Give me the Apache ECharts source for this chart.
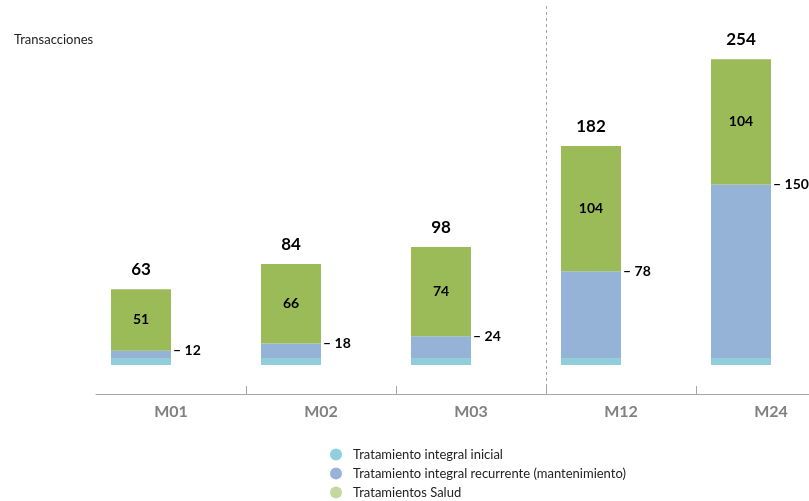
<!DOCTYPE html>
<html>
<head>
<meta charset="utf-8">
<script src="https://cdn.jsdelivr.net/npm/echarts@6/dist/echarts.min.js"></script>
<style>html,body{margin:0;padding:0;background:#fff;overflow:hidden;width:809px;height:501px}#c{width:846px;height:501px}</style>
</head>
<body>
<div id="c"></div>
<script>
const categories = ['M01', 'M02', 'M03', 'M12', 'M24'];
const seriesNames = ['Tratamiento integral inicial', 'Tratamiento integral recurrente (mantenimiento)', 'Tratamientos Salud'];
const inicial = [6, 6, 6, 6, 6];
const recurrente = [6, 12, 18, 72, 144];
const salud = [51, 66, 74, 104, 104];
const yMin = -24, yMax = 270;

const totals = categories.map((_, i) => inicial[i] + recurrente[i] + salud[i]);
const baseCum = categories.map((_, i) => inicial[i] + recurrente[i]);

const FONT = 'Lato, "Open Sans", sans-serif';
const chart = echarts.init(document.getElementById('c'), null, {renderer: 'canvas'});
const option = {
  animation: false,
  textStyle: {fontFamily: FONT},
  title: {text: 'Transacciones', left: 9, top: 28, textStyle: {fontSize: 13, fontWeight: 'normal', color: '#222', fontFamily: FONT}},
  grid: {left: 96, right: 0, top: 40, bottom: 107},
  legend: {
    orient: 'vertical', left: 330, top: 447, padding: 0, itemGap: 4, itemWidth: 12, itemHeight: 12, icon: 'circle',
    textStyle: {fontSize: 13, lineHeight: 15, color: '#222', fontFamily: FONT, padding: [0, 0, 0, 6]},
    data: [
      {name: seriesNames[0], itemStyle: {color: '#8fcfe0'}},
      {name: seriesNames[1], itemStyle: {color: '#98b3d8'}},
      {name: seriesNames[2], itemStyle: {color: '#c2d9a0'}}
    ]
  },
  xAxis: {
    type: 'category', data: categories,
    axisLine: {show: true, onZero: false, lineStyle: {color: '#a6a6a6', width: 1}},
    axisTick: {show: true, inside: true, length: 8, lineStyle: {color: '#a6a6a6'}, interval: (i) => i !== 0},
    axisLabel: {fontSize: 16, fontWeight: 'bold', color: '#808080', margin: 10, fontFamily: FONT}
  },
  yAxis: {type: 'value', min: yMin, max: yMax, show: false, splitLine: {show: false}},
  series: [
    {name: seriesNames[0], type: 'bar', stack: 'a', barWidth: 60, barGap: '0%', data: inicial,
     itemStyle: {color: '#92cddc'}},
    {name: seriesNames[1], type: 'bar', stack: 'a', barWidth: 60, data: recurrente,
     itemStyle: {color: '#95b3d7'},
     label: {show: true, position: [62, 0], verticalAlign: 'middle', align: 'left',
       fontSize: 14, fontWeight: 'bold', color: '#000', fontFamily: FONT,
       formatter: p => '– ' + baseCum[p.dataIndex]}},
    {name: seriesNames[2], type: 'bar', stack: 'a', barWidth: 60, data: salud,
     itemStyle: {color: '#9bbb59'},
     label: {show: true, position: 'inside', fontSize: 14, fontWeight: 'bold', color: '#000', fontFamily: FONT}},
    {name: 'totales', type: 'bar', stack: 'a', barWidth: 60, data: categories.map(() => 0),
     itemStyle: {color: 'transparent'}, silent: true,
     label: {show: true, position: 'top', distance: 11, fontSize: 17, fontWeight: 'bold', color: '#000', fontFamily: FONT,
       formatter: p => String(totals[p.dataIndex])}},
    {name: 'espacio', type: 'bar', stack: 'b', barWidth: 60, data: categories.map(() => 0),
     itemStyle: {color: 'transparent'}, silent: true}
  ]
};
chart.setOption(option);
const xa = chart.convertToPixel({xAxisIndex: 0}, 'M03');
const xb = chart.convertToPixel({xAxisIndex: 0}, 'M12');
const xs = Math.round((xa + xb) / 2) + 0.5;
const yb = chart.convertToPixel({yAxisIndex: 0}, yMin);
chart.setOption({graphic: [{type: 'line', silent: true, shape: {x1: xs, y1: 6, x2: xs, y2: yb},
  style: {stroke: '#a6a6a6', lineWidth: 1, lineDash: [3, 3]}}]});
</script>
</body>
</html>
